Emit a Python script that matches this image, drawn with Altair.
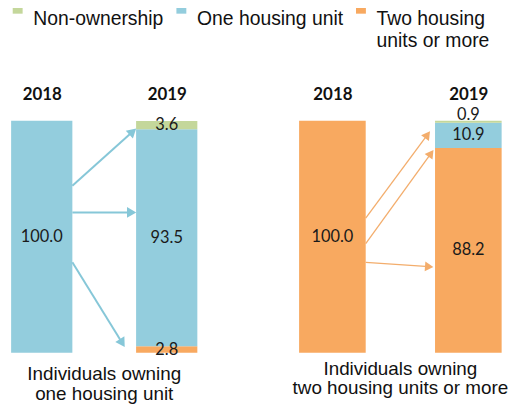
import math
import altair as alt
import pandas as pd

# ---------------- data ----------------
categories = ["Non-ownership", "One housing unit", "Two housing units or more"]
colors = ["#c4d79b", "#93cddd", "#f8a960"]
years = ["2018", "2019"]

# shares (%) in the order of `categories`
one_2018 = [0.0, 100.0, 0.0]
one_2019 = [3.6, 93.5, 2.8]
two_2018 = [0.0, 0.0, 100.0]
two_2019 = [0.9, 10.9, 88.2]

one_title = ["Individuals owning", "one housing unit"]
two_title = ["Individuals owning", "two housing units or more"]

# arrows: share level where they leave the 2018 bar / reach the 2019 bar,
# and fraction of the gap between the bars they cover
one_arrow_from = [72.0, 60.5, 39.0]
one_arrow_to = [96.6, 60.5, 2.6]
one_arrow_reach = [1.0, 1.0, 0.82]
two_arrow_from = [58.0, 47.0, 39.0]
two_arrow_to = [95.5, 87.5, 37.0]
two_arrow_reach = [0.93, 0.98, 0.98]

# ---------------- layout / style ----------------
H = 234
XDOM = [-0.27, 1.27]
HALF = 0.245
NUM_FONT = "Lato"
TXT_FONT = "Liberation Sans"
LEG_SIZE = 19.5
TITLE_SIZE = 19

color_scale = alt.Scale(domain=categories, range=colors)
legend = alt.Legend(
    title=None,
    labelExpr="datum.label == 'Two housing units or more' ? ['Two housing', 'units or more'] : [datum.label, '']",
)
# square symbol drawn level with the first label line
SQUARE_UP = "M-1,-3.15L1,-3.15L1,-1.15L-1,-1.15Z"


def panel(W, v18, v19, a_from, a_to, a_reach, title, arrow_color, arrow_w, head):
    rows = []
    for xi, vals in enumerate([v18, v19]):
        cum = 0.0
        # stack: last category at the bottom
        for cat, v in reversed(list(zip(categories, vals))):
            if v <= 0:
                continue
            rows.append(dict(x=xi, xl=xi - HALF, xr=xi + HALF, category=cat,
                             value=v, y0=cum, y1=cum + v, mid=cum + v / 2,
                             label=f"{v:.1f}", small=v < 2))
            cum += v
    df = pd.DataFrame(rows)

    px_x = W / (XDOM[1] - XDOM[0])
    px_y = H / 100.0
    arr = []
    for f, t, r in zip(a_from, a_to, a_reach):
        x0 = HALF
        x1 = HALF + r * (1 - 2 * HALF)
        dxp = (x1 - x0) * px_x
        dyp = -(t - f) * px_y  # screen y grows downward
        ln = math.hypot(dxp, dyp)
        back = 4.5
        hx = x1 - back * (dxp / ln) / px_x
        hy = t + back * (dyp / ln) / px_y
        ang = math.degrees(math.atan2(dyp, dxp)) % 360
        arr.append(dict(x0=x0, y0=f, x1=hx, y1=hy, ang=ang))
    adf = pd.DataFrame(arr)

    xaxis = alt.Axis(orient="top", values=[0, 1],
                     labelExpr="datum.value == 0 ? '2018' : '2019'",
                     domain=False, ticks=False, grid=False,
                     labelFont=NUM_FONT, labelFontWeight="bold",
                     labelFontSize=17, labelColor="#111111",
                     labelPadding=17)
    xs = alt.Scale(domain=XDOM, nice=False, zero=False)
    ys = alt.Scale(domain=[0, 100], nice=False)

    bars = alt.Chart(df).mark_bar().encode(
        x=alt.X("xl:Q", scale=xs, axis=xaxis, title=None),
        x2="xr:Q",
        y=alt.Y("y0:Q", scale=ys, axis=None),
        y2="y1:Q",
        color=alt.Color("category:N", scale=color_scale, legend=legend),
    )
    labels = alt.Chart(df).transform_filter("!datum.small").mark_text(
        font=NUM_FONT, fontSize=16.5, color="#1a1a1a", baseline="middle"
    ).encode(x=alt.X("x:Q", scale=xs), y=alt.Y("mid:Q", scale=ys), text="label:N")
    small_labels = alt.Chart(df).transform_filter("datum.small").mark_text(
        font=NUM_FONT, fontSize=16.5, color="#1a1a1a", baseline="bottom", dy=2
    ).encode(x=alt.X("x:Q", scale=xs), y=alt.Y("y1:Q", scale=ys), text="label:N")
    lines = alt.Chart(adf).mark_rule(color=arrow_color, strokeWidth=arrow_w).encode(
        x=alt.X("x0:Q", scale=xs), x2="x1:Q",
        y=alt.Y("y0:Q", scale=ys), y2="y1:Q")
    heads = alt.Chart(adf).mark_point(shape="triangle-right", filled=True,
                                      color=arrow_color, size=head, opacity=1).encode(
        x=alt.X("x1:Q", scale=xs), y=alt.Y("y1:Q", scale=ys),
        angle=alt.Angle("ang:Q", scale=None))
    return alt.layer(bars, lines, heads, labels, small_labels).properties(
        width=W, height=H,
        title=alt.TitleParams(text=title, orient="bottom", anchor="middle",
                              font=TXT_FONT, fontSize=TITLE_SIZE, fontWeight="normal",
                              color="#111111", offset=7, lineHeight=20))


left = panel(194, one_2018, one_2019, one_arrow_from, one_arrow_to,
             one_arrow_reach, one_title, "#86c7d8", 2, 115)
right = panel(211, two_2018, two_2019, two_arrow_from, two_arrow_to,
              two_arrow_reach, two_title, "#f3ad6c", 1.3, 95)

chart = alt.hconcat(left, right, spacing=92).properties(
    padding={"left": 0, "right": 0, "top": 0, "bottom": 0}
).configure_view(stroke=None).configure_legend(
    orient="top", direction="horizontal", symbolType=SQUARE_UP,
    symbolSize=100, symbolStrokeWidth=0, labelFont=TXT_FONT,
    labelFontSize=LEG_SIZE, labelColor="#111111", labelOffset=6,
    columnPadding=8, offset=36, labelBaseline="middle", padding=0
)

chart.save("out.html", embed_options={"renderer": "svg", "actions": False})
